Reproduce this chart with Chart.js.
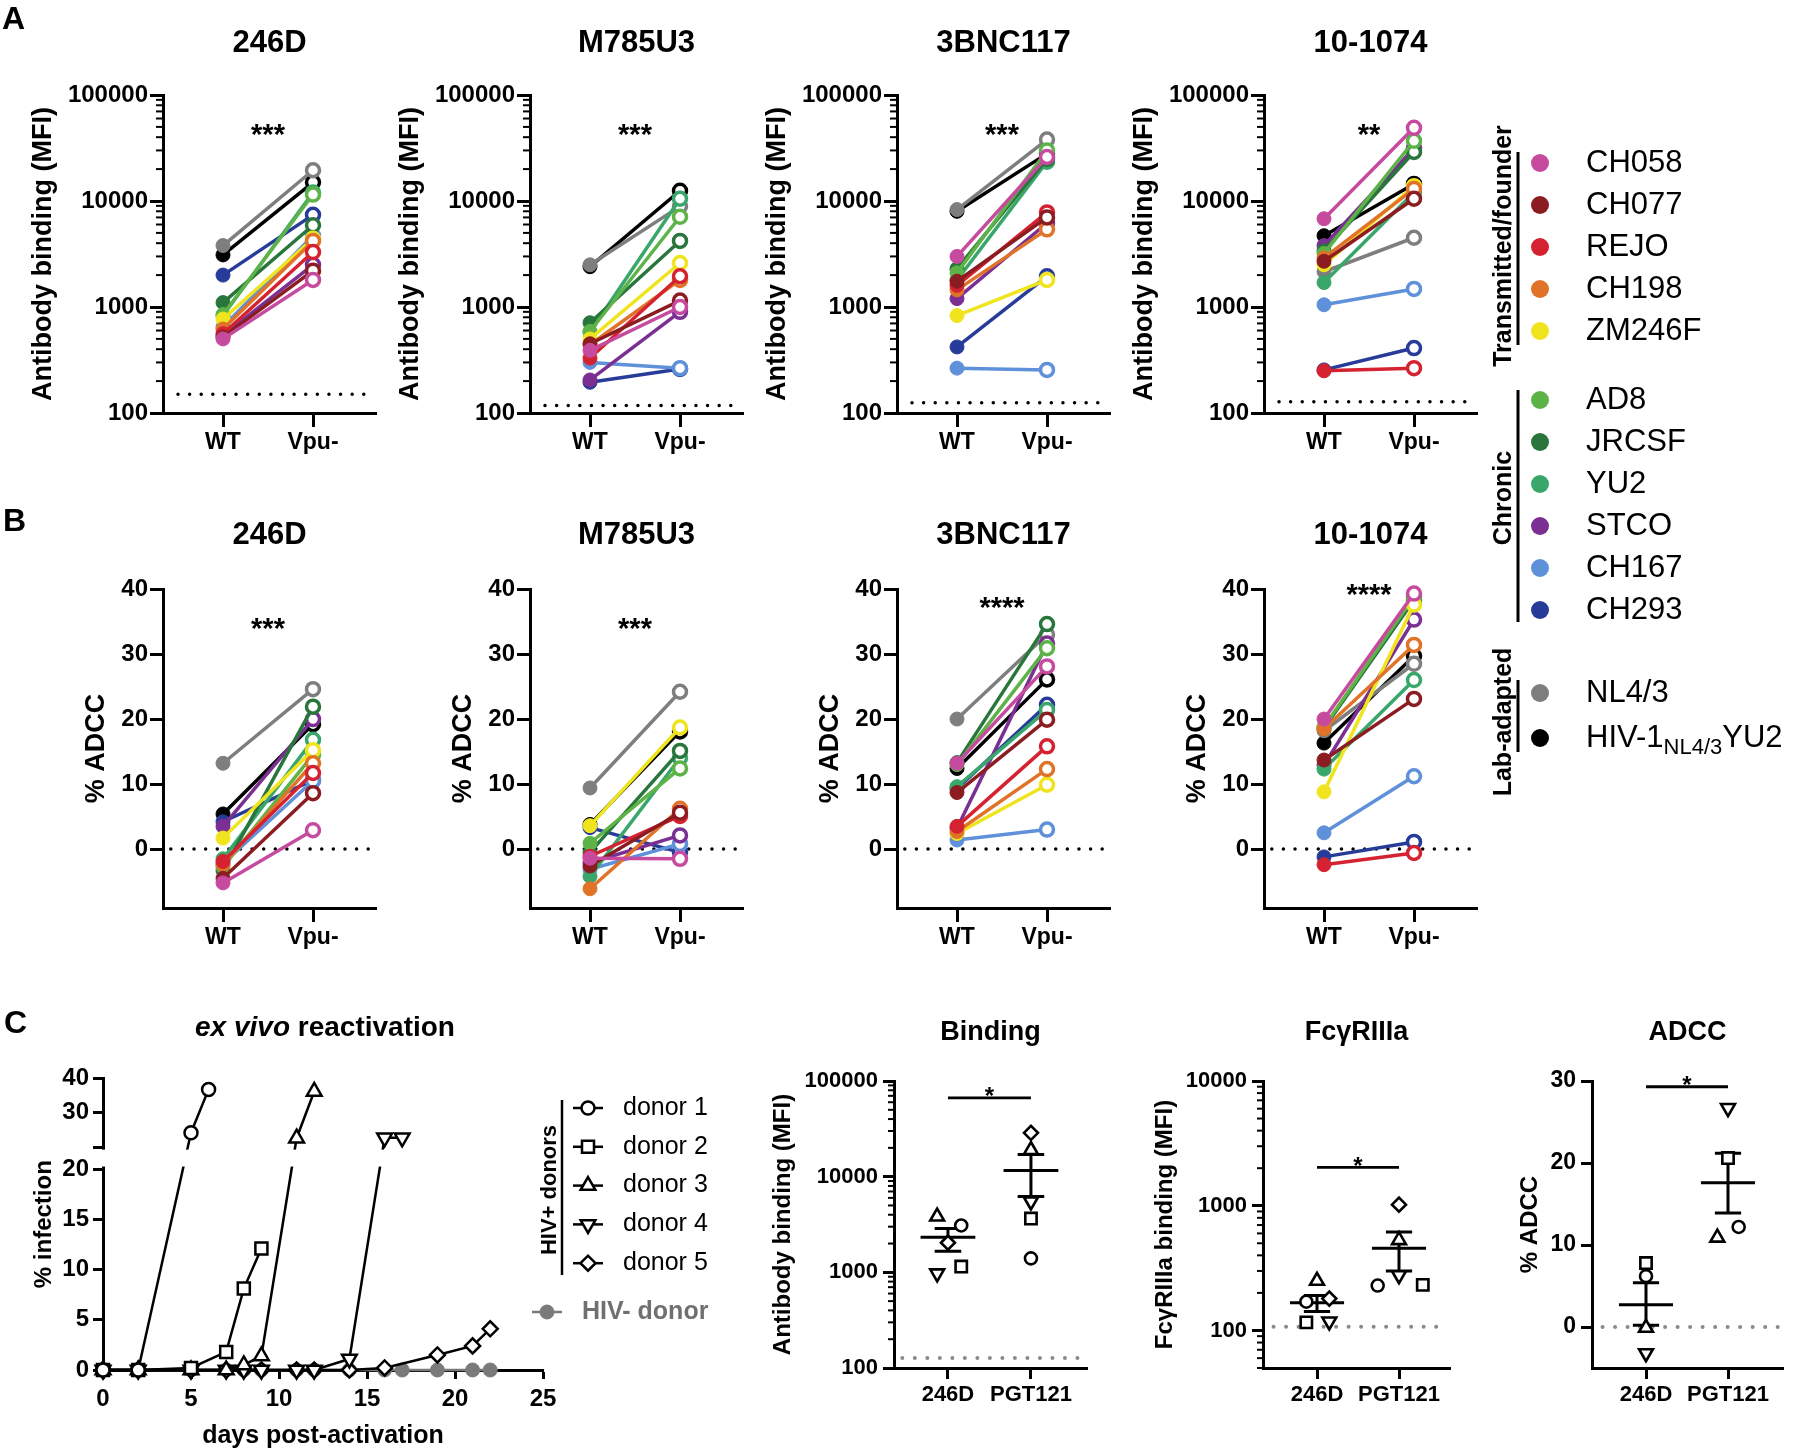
<!DOCTYPE html>
<html>
<head>
<meta charset="utf-8">
<title>Vpu / ADCC figure</title>
<script src="https://cdn.jsdelivr.net/npm/chart.js@4.4.1/dist/chart.umd.min.js"></script>
<style>
  html, body { margin: 0; padding: 0; background: #ffffff; }
  #fig { position: relative; width: 1800px; height: 1453px; overflow: hidden; background: #ffffff; }
  .box { position: absolute; }
  #overlay { position: absolute; left: 0; top: 0; pointer-events: none; }
</style>
</head>
<body>
<div id="fig"><canvas id="overlay" width="1800" height="1453"></canvas></div>
<script>
const FONT = '"Liberation Sans", Arial, Helvetica, sans-serif';

// ---- strains, in legend order ----
const strains = ['CH058', 'CH077', 'REJO', 'CH198', 'ZM246F', 'AD8', 'JRCSF', 'YU2', 'STCO', 'CH167', 'CH293', 'NL4/3', 'HIV-1NL4/3YU2'];
const strainColors = ['#c64b9f', '#8b1d22', '#d52231', '#e07328', '#f0e41e', '#5db347', '#28763b', '#39a66b', '#7b2f92', '#5f90da', '#273b99', '#7e7e7e', '#000000'];
const groups = ['WT', 'Vpu-'];
const antibodies = ['246D', 'M785U3', '3BNC117', '10-1074'];

// ---- A: antibody binding (MFI) ----
const bind246D_wt     = [500, 520, 560, 620, 770, 850, 1100, 830, 540, 650, 2000, 3800, 3100];
const bind246D_vpu    = [1800, 2200, 3300, 4200, 4400, 11500, 5900, 12000, 2500, 4700, 7400, 19500, 15000];
const bindM785U3_wt   = [390, 450, 330, 440, 500, 590, 710, 580, 205, 300, 195, 2500, 2400];
const bindM785U3_vpu  = [1000, 1150, 1950, 1800, 2600, 7100, 4200, 10500, 900, 265, 260, 8900, 12500];
const bind3BNC117_wt  = [3000, 1750, 1600, 1450, 830, 2100, 2300, 1800, 1200, 265, 420, 8300, 8000];
const bind3BNC117_vpu = [26000, 7000, 7800, 5400, 1800, 30000, 25000, 23500, 6200, 255, 1950, 38000, 28000];
const bind101074_wt   = [6800, 2700, 250, 2900, 2500, 3200, 3400, 1700, 3800, 1050, 255, 2150, 4700];
const bind101074_vpu  = [49000, 10500, 265, 13000, 13800, 37000, 29000, 12000, 31500, 1480, 410, 4500, 14500];
const bindCutoff = [150, 118, 125, 128];
const bindStars = ['***', '***', '***', '**'];
const bindStarLevel = 50000;

// ---- B: % ADCC ----
const adcc246D_wt     = [-5.2, -4.5, -1.9, -2.4, 1.7, -2.7, -3.3, -1.5, 3.5, -2.2, 4.2, 13.2, 5.4];
const adcc246D_vpu    = [2.9, 8.6, 11.7, 13.2, 15.2, 14.5, 21.9, 16.8, 20.0, 10.5, 10.6, 24.6, 19.2];
const adccM785U3_wt   = [-1.4, -2.6, -1.1, -6.1, 3.6, 0.9, -0.5, -4.2, -2.1, -3.1, 3.3, 9.4, 3.8];
const adccM785U3_vpu  = [-1.5, 5.6, 5.1, 6.2, 18.7, 12.4, 15.1, 14.0, 2.1, 0.8, -0.5, 24.2, 18.1];
const adcc3BNC117_wt  = [13.2, 8.7, 3.5, 2.7, 2.4, 13.0, 13.3, 9.6, 3.2, 1.4, 9.3, 20.0, 12.4];
const adcc3BNC117_vpu = [28.1, 19.9, 15.8, 12.3, 9.9, 30.9, 34.6, 21.4, 31.6, 3.0, 22.2, 33.0, 26.1];
const adcc101074_wt   = [20.0, 13.7, -2.4, 18.5, 8.8, 18.8, 18.6, 12.3, 12.9, 2.5, -1.2, 18.2, 16.3];
const adcc101074_vpu  = [39.3, 23.1, -0.6, 31.4, 37.6, 38.8, 38.3, 26.0, 35.3, 11.2, 1.1, 28.5, 29.7];
const adccStars = ['***', '***', '****', '****'];
const adccStarLevel = [35.0, 35.0, 38.3, 40.3];

// ---- C: ex vivo reactivation (% infection) ----
const donorNames = ['donor 1', 'donor 2', 'donor 3', 'donor 4', 'donor 5'];
const donor1Days = [0, 2, 5, 6];
const donor1Inf  = [0, 0, 24.2, 36.8];
const donor2Days = [0, 2, 5, 7, 8, 9];
const donor2Inf  = [0, 0, 0.2, 1.8, 8.1, 12.1];
const donor3Days = [0, 2, 5, 7, 8, 9, 11, 12];
const donor3Inf  = [0, 0, 0, 0, 0.5, 1.4, 22.6, 36.2];
const donor4Days = [0, 2, 5, 7, 8, 9, 11, 12, 14, 16, 17];
const donor4Inf  = [0, 0, 0, 0, 0, 0, 0, 0, 1.1, 22.7, 22.7];
const donor5Days = [0, 2, 5, 7, 8, 9, 11, 12, 14, 16, 19, 21, 22];
const donor5Inf  = [0, 0, 0, 0, 0, 0, 0, 0, 0, 0.2, 1.5, 2.4, 4.1];
const hivNegDays = [0, 2, 5, 7, 8, 9, 11, 12, 14, 16, 17, 19, 21, 22];
const hivNegInf  = [0, 0, 0, 0, 0, 0, 0, 0, 0, 0, 0, 0, 0, 0];
const infTickValues = [0, 5, 10, 15, 20, null, 30, 40];   // null = foot of the upper segment
const infTickLabels = ['0', '5', '10', '15', '20', '', '30', '40'];

// ---- C: 246D vs PGT121, one value per donor (donor 1..5) ----
const abC = ['246D', 'PGT121'];
const bind246D_donor   = [3090, 1150, 3830, 975, 2040];
const bindPGT121_donor = [1400, 3650, 19000, 5500, 28700];
const bindMean = [2320, 11600];
const bindSemLow = [1660, 6200];
const bindSemHigh = [2870, 17000];
const fc246D_donor   = [170, 116, 250, 118, 180];
const fcPGT121_donor = [229, 232, 530, 277, 1020];
const fcMean = [167, 457];
const fcSemLow = [142, 300];
const fcSemHigh = [191, 616];
const adcc246D_donor   = [6.2, 7.8, -0.1, -3.2, null];
const adccPGT121_donor = [12.2, 20.6, 10.9, 26.7, null];
const adccMean = [2.7, 17.6];
const adccSemLow = [0.2, 13.9];
const adccSemHigh = [5.4, 21.2];

// horizontal scatter of the donor symbols within a column
const bindJit246D = [0.16, 0.16, -0.13, -0.13, 0];
const bindJitPGT  = [0, 0, 0, 0, 0];
const fcJit246D   = [-0.13, -0.13, 0, 0.15, 0.15];
const fcJitPGT    = [-0.26, 0.29, 0, 0, 0];
const adccJit246D = [0, 0, 0, 0, 0];
const adccJitPGT  = [0.13, 0, -0.13, 0, 0];

// donor symbols
const donorStyle = ['circle', 'rect', 'triangle', 'triangle', 'rectRot'];
const donorRotation = [0, 0, 0, 180, 0];
const donorRadius = [6, 8, 8, 8, 7];

// broken y axis of the reactivation plot: 0-20 full scale, 20-40 squeezed
const infBreak = { at: 20, gap: 2.18, squeeze: 0.342 };
function toAxis(v) {
  return v <= infBreak.at ? v : infBreak.at + infBreak.gap + (v - infBreak.at) * infBreak.squeeze;
}

Chart.defaults.font.family = FONT;
Chart.defaults.color = '#000';

// plugin: minor log ticks, star labels, white band over the axis break
const extras = {
  id: 'extras',
  afterDatasetsDraw(chart, args, o) {
    if (!o.yBreak) return;
    const ys = chart.scales.y, a = chart.chartArea, ctx = chart.ctx;
    const yHi = ys.getPixelForValue(o.yBreak[1]);
    const yLo = ys.getPixelForValue(o.yBreak[0]);
    ctx.save();
    ctx.fillStyle = '#ffffff';
    ctx.fillRect(a.left - 3, yHi + 2.5, a.right - a.left + 30, yLo - yHi - 5);
    ctx.restore();
  },
  afterDraw(chart, args, o) {
    const ctx = chart.ctx, xs = chart.scales.x, ys = chart.scales.y, a = chart.chartArea;
    ctx.save();
    if (o.minorTicks) {
      ctx.strokeStyle = '#000';
      ctx.lineWidth = 2;
      for (let p = Math.floor(Math.log10(ys.min)); p < Math.log10(ys.max); p++) {
        for (let m = 2; m <= 9; m++) {
          const v = m * Math.pow(10, p);
          if (v < ys.min || v > ys.max) continue;
          const y = ys.getPixelForValue(v);
          ctx.beginPath();
          ctx.moveTo(a.left - o.minorTicks, y);
          ctx.lineTo(a.left, y);
          ctx.stroke();
        }
      }
    }
    (o.notes || []).forEach(n => {
      ctx.font = 'bold ' + n.size + 'px ' + FONT;
      ctx.fillStyle = '#000';
      ctx.textAlign = 'center';
      ctx.textBaseline = 'alphabetic';
      // asterisks sit high in the em box, so shift the baseline down
      ctx.fillText(n.text, xs.getPixelForValue(n.x), ys.getPixelForValue(n.y) + 0.585 * n.size);
    });
    ctx.restore();
  }
};
Chart.register(extras);

const fig = document.getElementById('fig');
const overlay = document.getElementById('overlay');

function place(g) {
  const left = g.axisX - g.yw, top = g.boxTop;
  const w = g.yw + (g.right - g.axisX) + g.padR;
  const h = g.bottom + g.xh - top;
  const div = document.createElement('div');
  div.className = 'box';
  div.style.left = left + 'px';
  div.style.top = top + 'px';
  div.style.width = w + 'px';
  div.style.height = h + 'px';
  const cv = document.createElement('canvas');
  cv.width = w;
  cv.height = h;
  cv.style.width = w + 'px';
  cv.style.height = h + 'px';
  div.appendChild(cv);
  fig.insertBefore(div, overlay);
  return cv;
}

function yAxis(g) {
  const lh = g.yTitleSize * 1.2;
  return {
    type: g.yType, min: g.yMin, max: g.yMax,
    afterBuildTicks: s => { s.ticks = g.yTicks.map(v => ({ value: v })); },
    afterFit: s => { s.width = g.yw; },
    ticks: {
      autoSkip: false, padding: g.yPad, color: '#000',
      font: { size: g.yTickSize, weight: 'bold' },
      callback: (v, i) => g.yLabels ? g.yLabels[i] : String(v)
    },
    grid: { drawOnChartArea: false, drawTicks: true, tickLength: g.yTick, tickWidth: 3, tickColor: '#000' },
    border: { display: true, width: 3, color: '#000' },
    title: {
      display: true, text: g.yTitle, color: '#000',
      font: { size: g.yTitleSize, weight: 'bold' },
      padding: { top: g.yw - g.yTitleOff - lh / 2, bottom: 0 }
    }
  };
}

function xAxis(g) {
  return {
    type: 'linear', min: g.xMin, max: g.xMax,
    afterBuildTicks: s => { s.ticks = g.xTicks.map(v => ({ value: v })); },
    afterFit: s => { s.height = g.xh; },
    ticks: {
      autoSkip: false, maxRotation: 0, minRotation: 0, padding: g.xPad, color: '#000',
      font: { size: g.xTickSize, weight: 'bold' },
      callback: (v, i) => g.xLabels[i]
    },
    grid: { drawOnChartArea: false, drawTicks: true, tickLength: g.xTick, tickWidth: 3, tickColor: '#000' },
    border: { display: true, width: 3, color: '#000' },
    title: g.xTitle ? {
      display: true, text: g.xTitle, color: '#000',
      font: { size: g.xTitleSize, weight: 'bold' },
      padding: { top: 0, bottom: 0 }
    } : { display: false }
  };
}

function options(g, extraOpts) {
  const tlh = (g.titleSize || 0) * 1.2;
  return {
    responsive: false,
    animation: false,
    events: [],
    layout: { padding: { left: 0, right: g.padR, top: g.title ? 0 : g.plotTop - g.boxTop, bottom: 0 } },
    plugins: {
      legend: { display: false },
      tooltip: { enabled: false },
      title: g.title ? {
        display: true, text: g.title, fullSize: false, color: '#000',
        font: { size: g.titleSize, weight: 'bold' },
        padding: { top: g.titleY - g.boxTop - tlh / 2, bottom: g.plotTop - g.titleY - tlh / 2 }
      } : { display: false },
      extras: extraOpts || {}
    },
    scales: { x: xAxis(g), y: yAxis(g) }
  };
}

function dotted(y, x0, x1, color, width, gap) {
  return {
    data: [{ x: x0, y: y }, { x: x1, y: y }],
    borderColor: color, borderWidth: width, borderDash: [0.01, gap], borderCapStyle: 'round',
    pointRadius: 0, clip: false
  };
}

function strainDatasets(wt, vpu) {
  return strains.map((name, i) => ({
    label: name,
    data: [{ x: 1, y: wt[i] }, { x: 2, y: vpu[i] }],
    borderColor: strainColors[i],
    borderWidth: 3.5,
    pointRadius: [7, 6.5],
    pointBorderWidth: [1, 3.5],
    pointBackgroundColor: [strainColors[i], '#ffffff'],
    pointBorderColor: strainColors[i],
    clip: false
  }));
}

// ---------- panels A and B ----------
const bindingPairs = [[bind246D_wt, bind246D_vpu], [bindM785U3_wt, bindM785U3_vpu],
                      [bind3BNC117_wt, bind3BNC117_vpu], [bind101074_wt, bind101074_vpu]];
const adccPairs = [[adcc246D_wt, adcc246D_vpu], [adccM785U3_wt, adccM785U3_vpu],
                   [adcc3BNC117_wt, adcc3BNC117_vpu], [adcc101074_wt, adcc101074_vpu]];

function geomStrain(i, title) {
  const axisX = 163 + 367 * i;
  const xMin = 1 - 60 / 90;
  return {
    axisX, right: axisX + 213, padR: 10,
    title, titleSize: 31,
    yw: 140, yTick: 13, yPad: 2, yTickSize: 24, yTitleSize: 27,
    xh: 52, xMin, xMax: xMin + 213 / 90, xTicks: [1, 2], xLabels: groups,
    xTick: 14, xPad: 2, xTickSize: 23
  };
}

antibodies.forEach((ab, i) => {
  const g = Object.assign(geomStrain(i, ab), {
    boxTop: 8, plotTop: 95, bottom: 413, titleY: 43,
    yType: 'logarithmic', yMin: 100, yMax: 100000, yTicks: [100, 1000, 10000, 100000],
    yTitle: 'Antibody binding (MFI)', yTitleOff: 119
  });
  const ds = strainDatasets(bindingPairs[i][0], bindingPairs[i][1]);
  ds.push(dotted(bindCutoff[i], 0.5, g.xMax - 0.02, '#000', 3.5, 11.6));
  new Chart(place(g), {
    type: 'line',
    data: { datasets: ds },
    options: options(g, { minorTicks: 7, notes: [{ x: 1.5, y: bindStarLevel, text: bindStars[i], size: 29 }] })
  });
});

antibodies.forEach((ab, i) => {
  const g = Object.assign(geomStrain(i, ab), {
    boxTop: 505, plotTop: 589, bottom: 908, titleY: 535,
    yType: 'linear', yMin: -9.06, yMax: 40, yTicks: [0, 10, 20, 30, 40],
    yTitle: '% ADCC', yTitleOff: 66
  });
  const ds = strainDatasets(adccPairs[i][0], adccPairs[i][1]);
  ds.push(dotted(0, 0.42, g.xMax - 0.02, '#000', 3.5, 11.6));
  new Chart(place(g), {
    type: 'line',
    data: { datasets: ds },
    options: options(g, { notes: [{ x: 1.5, y: adccStarLevel[i], text: adccStars[i], size: 29 }] })
  });
});

// ---------- panel C: reactivation time course ----------
{
  const g = {
    axisX: 103, right: 543, padR: 25, boxTop: 1060, plotTop: 1077, bottom: 1370,
    title: null,
    yw: 100, yType: 'linear', yMin: 0, yMax: toAxis(40),
    yTicks: infTickValues.map(v => v === null ? infBreak.at + infBreak.gap : toAxis(v)),
    yLabels: infTickLabels, yTick: 10, yPad: 4, yTickSize: 24,
    yTitle: '% infection', yTitleSize: 24, yTitleOff: 59,
    xh: 81, xMin: 0, xMax: 25, xTicks: [0, 5, 10, 15, 20, 25], xLabels: ['0', '5', '10', '15', '20', '25'],
    xTick: 9, xPad: 6, xTickSize: 24, xTitle: 'days post-activation', xTitleSize: 25
  };
  const series = [[donor1Days, donor1Inf], [donor2Days, donor2Inf], [donor3Days, donor3Inf],
                  [donor4Days, donor4Inf], [donor5Days, donor5Inf]];
  const ds = series.map(([days, inf], i) => ({
    label: donorNames[i],
    data: days.map((d, k) => ({ x: d, y: toAxis(inf[k]) })),
    borderColor: '#000', borderWidth: 2.5,
    pointStyle: donorStyle[i], pointRotation: donorRotation[i], pointRadius: donorRadius[i] + 0.5,
    pointBackgroundColor: '#ffffff', pointBorderColor: '#000', pointBorderWidth: 2.5,
    clip: false
  }));
  ds.push({
    label: 'HIV- donor',
    data: hivNegDays.map((d, k) => ({ x: d, y: toAxis(hivNegInf[k]) })),
    borderColor: '#7a7a7a', borderWidth: 2.5, pointRadius: 7,
    pointBackgroundColor: '#7a7a7a', pointBorderColor: '#7a7a7a', pointBorderWidth: 1, clip: false
  });
  new Chart(place(g), {
    type: 'line',
    data: { datasets: ds },
    options: options(g, { yBreak: [infBreak.at, infBreak.at + infBreak.gap] })
  });
}

// ---------- panel C: 246D vs PGT121 ----------
function donorScatter(center, jitter, values) {
  return {
    data: values.map((v, i) => ({ x: center + jitter[i], y: v })),
    showLine: false,
    pointStyle: donorStyle, pointRotation: donorRotation, pointRadius: donorRadius,
    pointBackgroundColor: '#ffffff', pointBorderColor: '#000', pointBorderWidth: 2.6,
    clip: false
  };
}
function meanSem(mean, lo, hi) {
  const pts = [];
  mean.forEach((m, i) => {
    const x = i + 1;
    pts.push({ x: x - 0.33, y: m }, { x: x + 0.33, y: m }, { x: x, y: null },
             { x: x - 0.16, y: hi[i] }, { x: x + 0.16, y: hi[i] }, { x: x, y: null },
             { x: x - 0.16, y: lo[i] }, { x: x + 0.16, y: lo[i] }, { x: x, y: null },
             { x: x, y: lo[i] }, { x: x, y: hi[i] }, { x: x, y: null });
  });
  return { data: pts, borderColor: '#000', borderWidth: 3, pointRadius: 0, spanGaps: false, clip: false };
}
function sigBar(y) {
  return { data: [{ x: 1, y: y }, { x: 2, y: y }], borderColor: '#000', borderWidth: 2.8, pointRadius: 0, clip: false };
}

const cCommon = {
  boxTop: 1005, plotTop: 1081, bottom: 1368, titleY: 1033, titleSize: 27, padR: 10,
  yTick: 11, yPad: 5, yTitleSize: 24,
  xh: 45, xTicks: [1, 2], xLabels: abC, xTick: 11, xPad: 3, xTickSize: 22
};

{
  const g = Object.assign({}, cCommon, {
    axisX: 894, right: 1087, title: 'Binding', yw: 130,
    yType: 'logarithmic', yMin: 100, yMax: 100000, yTicks: [100, 1000, 10000, 100000], yTickSize: 22,
    yTitle: 'Antibody binding (MFI)', yTitleOff: 111,
    xMin: 0.35, xMax: 0.35 + 193 / 83
  });
  new Chart(place(g), {
    type: 'line',
    data: { datasets: [
      donorScatter(1, bindJit246D, bind246D_donor),
      donorScatter(2, bindJitPGT, bindPGT121_donor),
      meanSem(bindMean, bindSemLow, bindSemHigh),
      sigBar(66500),
      dotted(127, 0.45, g.xMax - 0.02, '#8a8a8a', 4, 12.5)
    ] },
    options: options(g, { minorTicks: 6, notes: [{ x: 1.5, y: 80600, text: '*', size: 24 }] })
  });
}

{
  const g = Object.assign({}, cCommon, {
    axisX: 1263, right: 1450, title: 'FcγRIIIa', yw: 115,
    yType: 'logarithmic', yMin: 50, yMax: 10000, yTicks: [100, 1000, 10000], yTickSize: 22,
    yTitle: 'FcγRIIIa binding (MFI)', yTitleOff: 98,
    xMin: 1 - 54 / 82, xMax: 1 - 54 / 82 + 187 / 82
  });
  new Chart(place(g), {
    type: 'line',
    data: { datasets: [
      donorScatter(1, fcJit246D, fc246D_donor),
      donorScatter(2, fcJitPGT, fcPGT121_donor),
      meanSem(fcMean, fcSemLow, fcSemHigh),
      sigBar(2030),
      dotted(107, 0.47, g.xMax - 0.02, '#8a8a8a', 4, 12.5)
    ] },
    options: options(g, { minorTicks: 6, notes: [{ x: 1.5, y: 2330, text: '*', size: 24 }] })
  });
}

{
  const g = Object.assign({}, cCommon, {
    axisX: 1592, right: 1783, title: 'ADCC', yw: 90,
    yType: 'linear', yMin: -5, yMax: 30, yTicks: [0, 10, 20, 30], yTickSize: 23,
    yTitle: '% ADCC', yTitleOff: 62,
    xMin: 1 - 54 / 82, xMax: 1 - 54 / 82 + 191 / 82
  });
  new Chart(place(g), {
    type: 'line',
    data: { datasets: [
      donorScatter(1, adccJit246D, adcc246D_donor),
      donorScatter(2, adccJitPGT, adccPGT121_donor),
      meanSem(adccMean, adccSemLow, adccSemHigh),
      sigBar(29.3),
      dotted(0, 0.47, g.xMax - 0.02, '#8a8a8a', 4, 12.5)
    ] },
    options: options(g, { notes: [{ x: 1.5, y: 30.3, text: '*', size: 24 }] })
  });
}

// ---------- overlay: panel letters, legends, C title ----------
const ov = overlay.getContext('2d');
function setFont(size, weight, style) {
  ov.font = (style || 'normal') + ' ' + (weight || 'normal') + ' ' + size + 'px ' + FONT;
}
function text(s, x, y, size, weight, align, color) {
  setFont(size, weight);
  ov.fillStyle = color || '#000';
  ov.textAlign = align || 'left';
  ov.textBaseline = 'middle';
  ov.fillText(s, x, y);
}
function vtext(s, x, y, size, weight) {
  ov.save();
  ov.translate(x, y);
  ov.rotate(-Math.PI / 2);
  text(s, 0, 0, size, weight, 'center');
  ov.restore();
}
function seg(x0, y0, x1, y1, w, color) {
  ov.save();
  ov.strokeStyle = color || '#000';
  ov.lineWidth = w;
  ov.beginPath();
  ov.moveTo(x0, y0);
  ov.lineTo(x1, y1);
  ov.stroke();
  ov.restore();
}
function marker(style, r, rot, x, y, fill, stroke, bw) {
  ov.save();
  ov.fillStyle = fill;
  ov.strokeStyle = stroke;
  ov.lineWidth = bw;
  if (Chart.helpers && Chart.helpers.drawPoint) {
    Chart.helpers.drawPoint(ov, { pointStyle: style, radius: r, rotation: rot, borderWidth: bw }, x, y);
  } else {
    ov.beginPath();
    ov.arc(x, y, r, 0, Math.PI * 2);
    ov.fill();
    ov.stroke();
  }
  ov.restore();
}

// panel letters
setFont(32, 'bold');
ov.fillStyle = '#000';
ov.textAlign = 'left';
ov.textBaseline = 'alphabetic';
ov.fillText('A', 2, 29);
ov.fillText('B', 3, 531);
ov.fillText('C', 4, 1033);

// strain legend (A/B)
const legendGroups = [
  { name: 'Transmitted/founder', first: 0, count: 5, top: 163, step: 42, line: [152, 345], labelY: 246 },
  { name: 'Chronic', first: 5, count: 6, top: 400, step: 42, line: [390, 622], labelY: 498 },
  { name: 'Lab-adapted', first: 11, count: 2, top: 693, step: 45, line: [680, 752], labelY: 722 }
];
legendGroups.forEach(gr => {
  vtext(gr.name, 1504, gr.labelY, 25, 'bold');
  seg(1518, gr.line[0], 1518, gr.line[1], 3);
  for (let k = 0; k < gr.count; k++) {
    const i = gr.first + k;
    const y = gr.top + k * gr.step;
    ov.fillStyle = strainColors[i];
    ov.beginPath();
    ov.arc(1540, y, 9, 0, Math.PI * 2);
    ov.fill();
    if (strains[i] === 'HIV-1NL4/3YU2') {
      setFont(31);
      ov.fillStyle = '#000';
      ov.textAlign = 'left';
      ov.textBaseline = 'middle';
      let x = 1586;
      ov.fillText('HIV-1', x, y);
      x += ov.measureText('HIV-1').width;
      setFont(22);
      ov.fillText('NL4/3', x, y + 10);
      x += ov.measureText('NL4/3').width;
      setFont(31);
      ov.fillText('YU2', x, y);
    } else {
      text(strains[i], 1586, y, 31);
    }
  }
});

// C title with italic "ex vivo"
{
  setFont(28, 'bold', 'italic');
  const w1 = ov.measureText('ex vivo').width;
  setFont(28, 'bold');
  const w2 = ov.measureText(' reactivation').width;
  const x0 = 325 - (w1 + w2) / 2;
  ov.fillStyle = '#000';
  ov.textAlign = 'left';
  ov.textBaseline = 'middle';
  setFont(28, 'bold', 'italic');
  ov.fillText('ex vivo', x0, 1028);
  setFont(28, 'bold');
  ov.fillText(' reactivation', x0 + w1, 1028);
}

// donor legend (C)
vtext('HIV+ donors', 550, 1190, 22, 'bold');
seg(562, 1100, 562, 1275, 2.5);
donorNames.forEach((n, i) => {
  const y = 1108 + i * 38.8;
  seg(573, y, 603, y, 2.5);
  marker(donorStyle[i], donorRadius[i] + 0.5, donorRotation[i], 588, y, '#ffffff', '#000', 2.5);
  text(n, 623, y, 25);
});
seg(532, 1312, 562, 1312, 2.5, '#7a7a7a');
marker('circle', 7, 0, 547, 1312, '#7a7a7a', '#7a7a7a', 1);
text('HIV- donor', 582, 1312, 25, 'bold', 'left', '#707070');
</script>
</body>
</html>
